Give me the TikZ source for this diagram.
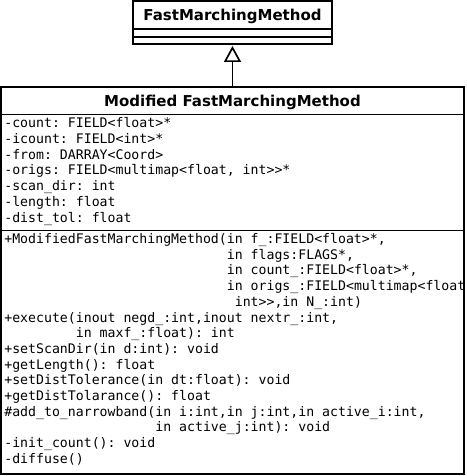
\documentclass[tikz,border=0pt]{standalone}
\usepackage{fontspec}
\setmonofont{DejaVu Sans Mono}
\setsansfont{DejaVu Sans}
\usetikzlibrary{positioning,arrows.meta}

\begin{document}
\begin{tikzpicture}[x=1pt,y=1pt,line width=1.7pt,shorten >=2pt,
    classbox/.style={rectangle,draw,outer sep=0pt,inner sep=0pt,minimum width=199pt},
    classname/.style={classbox,text height=11pt,text depth=0pt,font=\sffamily\bfseries\fontsize{15}{18}\selectfont},
    member/.style={anchor=base west,inner sep=0pt,font=\ttfamily\fontsize{13.2}{15}\selectfont},
    inherit/.style={-{Triangle[open,length=16pt,width=17pt]}}]

    \useasboundingbox (0,0) rectangle (466,-476);

    % base class
    \node[classname, minimum height=28pt] (fmm) at (232.5,-15) {FastMarchingMethod};
    \node[classbox, minimum height=8pt]  (fmmattr) [below = 0pt of fmm] {};
    \node[classbox, minimum height=7pt]  (fmmops)  [below = 0pt of fmmattr] {};

    % derived class
    \node[classname, minimum width=463pt, minimum height=27.5pt] (mfmm) at (232.5,-100.75) {Modified FastMarchingMethod};
    \node[classbox, minimum width=463pt, minimum height=116pt]   (mfmmattr) [below = 0pt of mfmm] {};
    \node[classbox, minimum width=463pt, minimum height=243.5pt] (mfmmops)  [below = 0pt of mfmmattr] {};

    \foreach \txt [count=\i] in {
        {-count: FIELD<float>*},
        {-icount: FIELD<int>*},
        {-from: DARRAY<Coord>},
        {-origs: FIELD<multimap<float, int>>*},
        {-scan\_dir: int},
        {-length: float},
        {-dist\_tol: float}}
        \node[member] (attr\i) at (3.5,{-127.5-15.8*(\i-1)}) {\txt};

    \begin{scope}
        \clip (mfmmops.north west) rectangle (mfmmops.south east);
        \foreach \txt [count=\i] in {
            {+ModifiedFastMarchingMethod(in f\_:FIELD<float>*,},
            {\phantom{+ModifiedFastMarchingMethod(}in flags:FLAGS*,},
            {\phantom{+ModifiedFastMarchingMethod(}in count\_:FIELD<float>*,},
            {\phantom{+ModifiedFastMarchingMethod(}in origs\_:FIELD<multimap<float,},
            {\phantom{+ModifiedFastMarchingMethod(i}int>>,in N\_:int)},
            {+execute(inout negd\_:int,inout nextr\_:int,},
            {\phantom{+execute(}in maxf\_:float): int},
            {+setScanDir(in d:int): void},
            {+getLength(): float},
            {+setDistTolerance(in dt:float): void},
            {+getDistTolarance(): float},
            {\#add\_to\_narrowband(in i:int,in j:int,in active\_i:int,},
            {\phantom{\#add\_to\_narrowband(}in active\_j:int): void},
            {-init\_count(): void},
            {-diffuse()}}
            \node[member] (op\i) at (3.5,{-243.5-15.7*(\i-1)}) {\txt};
    \end{scope}

    \path[inherit]
        (mfmm) edge (fmmops)
    ;
\end{tikzpicture}
\end{document}
